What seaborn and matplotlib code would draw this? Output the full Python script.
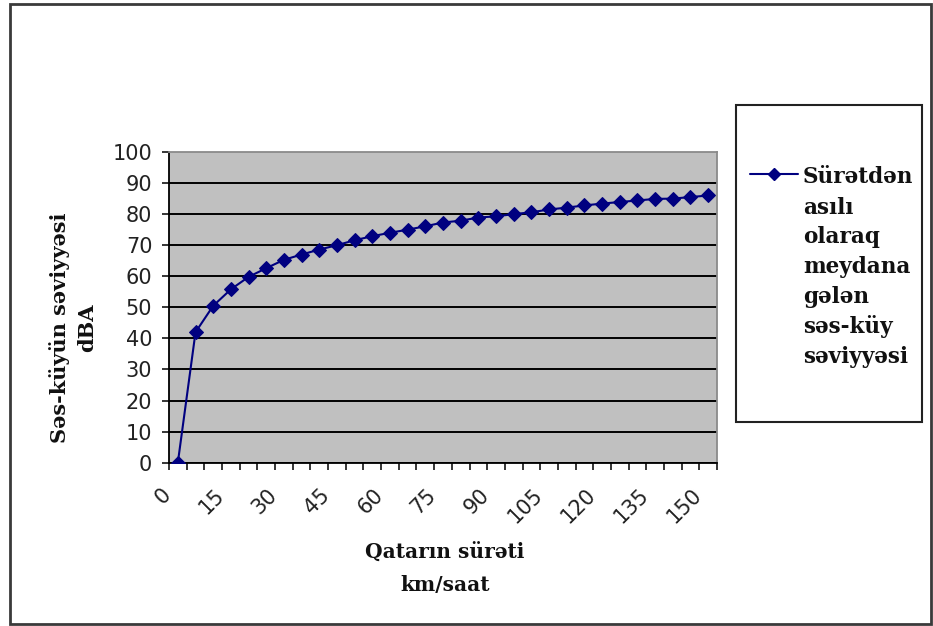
import matplotlib
matplotlib.use("Agg")
import matplotlib.pyplot as plt
from matplotlib.lines import Line2D
from matplotlib.patches import Rectangle
from matplotlib.transforms import ScaledTranslation
import seaborn as sns
import pandas as pd

# Train speed categories (km/h) and the resulting noise level (dBA)
speed = [0, 5, 10, 15, 20, 25, 30, 35, 40, 45, 50, 55, 60, 65, 70, 75,
         80, 85, 90, 95, 100, 105, 110, 115, 120, 125, 130, 135, 140, 145, 150]
noise = [0, 42.0, 50.5, 55.8, 59.8, 62.6, 65.3, 67.0, 68.6, 70.0, 71.6, 72.9,
         74.0, 75.0, 76.1, 77.3, 77.9, 78.9, 79.3, 80.0, 80.6, 81.5, 82.1,
         82.8, 83.4, 83.9, 84.4, 84.9, 85.0, 85.5, 86.0]
y_ticks = [0, 10, 20, 30, 40, 50, 60, 70, 80, 90, 100]
x_label_every = 3

series_name = ["Sürətdən", "asılı", "olaraq", "meydana", "gələn", "səs-küy", "səviyyəsi"]
x_title = "Qatarın sürəti\nkm/saat"
y_title = "Səs-küyün səviyyəsi\ndBA"

W, H = 933, 626
LINE_COLOR = "#000080"
SERIF = ["DejaVu Serif", "Liberation Serif"]
SANS = ["DejaVu Sans", "Liberation Sans"]


def fx(x):
    return x / W


def fy(y):
    return 1 - y / H


sns.set_style("white")
plt.rcParams["font.family"] = SANS

fig = plt.figure(figsize=(W / 100, H / 100), dpi=100)
fig.patch.set_facecolor("white")

# plot area
left, right, top, bottom = 169, 717, 152, 462.7
ax = fig.add_axes([fx(left), fy(bottom), fx(right - left), (bottom - top) / H])
ax.set_facecolor("#c0c0c0")

df = pd.DataFrame({"speed": speed, "noise": noise})
sns.lineplot(data=df, x="speed", y="noise", ax=ax, color=LINE_COLOR,
             linewidth=1.5, marker="D", markersize=6.8,
             markeredgecolor=LINE_COLOR, markerfacecolor=LINE_COLOR, zorder=3)

step = speed[1] - speed[0]
ax.set_xlim(speed[0] - step / 2, speed[-1] + step / 2)
ax.set_ylim(y_ticks[0], y_ticks[-1])

# horizontal gridlines
ax.set_yticks(y_ticks)
ax.set_yticklabels([str(v) for v in y_ticks])
ax.yaxis.grid(True, color="black", linewidth=1.4)
ax.xaxis.grid(False)
ax.set_axisbelow(True)
ax.get_ygridlines()[-1].set_visible(False)

# category labels every third speed, tick marks between categories
ax.set_xticks(speed[::x_label_every])
ax.set_xticklabels([str(s) for s in speed[::x_label_every]])
ax.set_xticks([s - step / 2 for s in speed] + [speed[-1] + step / 2], minor=True)
ax.tick_params(axis="x", which="major", length=0, pad=21, labelsize=15,
               labelcolor="#222222")
ax.tick_params(axis="x", which="minor", direction="out", length=5, width=1.1,
               color="black", bottom=True)
shift = ScaledTranslation(-10 / 100, 0, fig.dpi_scale_trans)
for lbl in ax.get_xticklabels():
    lbl.set_rotation(45)
    lbl.set_ha("right")
    lbl.set_va("center")
    lbl.set_rotation_mode("anchor")
    lbl.set_transform(lbl.get_transform() + shift)
ax.tick_params(axis="y", direction="out", length=5, width=1.1, color="black",
               pad=7, labelsize=15, labelcolor="#222222", left=True)

for side in ("left", "bottom"):
    ax.spines[side].set_color("black")
    ax.spines[side].set_linewidth(1.3)
for side in ("top", "right"):
    ax.spines[side].set_color("#8a8a8a")
    ax.spines[side].set_linewidth(1.3)

# axis titles
ax.set_xlabel(x_title, fontsize=14.5, fontweight="bold", family=SERIF,
              linespacing=1.75, color="#111111")
ax.xaxis.set_label_coords((445 - left) / (right - left), -(569 - bottom) / (bottom - top))
ax.xaxis.label.set_va("center")
ax.set_ylabel(y_title, fontsize=15, fontweight="bold", family=SERIF,
              linespacing=1.45, color="#111111")
ax.yaxis.set_label_coords(-(left - 73) / (right - left), (bottom - 328) / (bottom - top))
ax.yaxis.label.set_va("center")

# legend box
lx0, ly0, lx1, ly1 = 736, 105, 922, 422
fig.patches.append(Rectangle((fx(lx0), fy(ly1)), fx(lx1 - lx0), (ly1 - ly0) / H,
                             transform=fig.transFigure, facecolor="white",
                             edgecolor="#222222", linewidth=1.5))
fig.lines.append(Line2D([fx(750), fx(798)], [fy(174), fy(174)],
                        transform=fig.transFigure, color=LINE_COLOR, linewidth=1.5))
fig.lines.append(Line2D([fx(774)], [fy(174)], transform=fig.transFigure,
                        color=LINE_COLOR, marker="D", markersize=6,
                        linestyle="none"))
for i, word in enumerate(series_name):
    fig.text(fx(803), fy(183.5 + i * 30), word, fontsize=15.5, fontweight="bold",
             family=SERIF, color="#111111", ha="left", va="baseline")

# outer chart border
fig.patches.append(Rectangle((fx(10), fy(624)), fx(921), 620 / H,
                             transform=fig.transFigure, fill=False,
                             edgecolor="#3a3a3a", linewidth=2))

fig.savefig("out.png", dpi=100, facecolor="white")
